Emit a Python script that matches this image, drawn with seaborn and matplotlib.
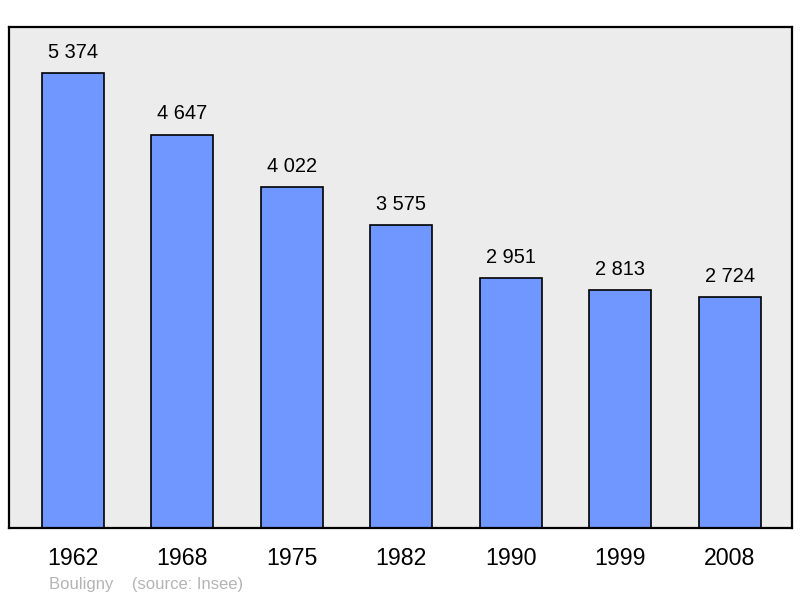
import matplotlib
matplotlib.use("Agg")
import matplotlib.pyplot as plt
import seaborn as sns
import pandas as pd

years = ["1962", "1968", "1975", "1982", "1990", "1999", "2008"]
population = [5374, 4647, 4022, 3575, 2951, 2813, 2724]
value_labels = ["5 374", "4 647", "4 022", "3 575", "2 951", "2 813", "2 724"]

sns.set_style("white")
plt.rcParams["font.family"] = ["Liberation Sans", "DejaVu Sans"]

df = pd.DataFrame({"year": years, "pop": population})

fig = plt.figure(figsize=(8, 5.98), dpi=100)
ax = fig.add_axes([9 / 800, 1 - 528 / 598, (792 - 9) / 800, (528 - 27) / 598])
ax.set_facecolor("#ececec")

sns.barplot(data=df, x="year", y="pop", color="#7097ff", width=0.566,
            edgecolor="black", linewidth=1.2, saturation=1, ax=ax)

for i, (v, lab) in enumerate(zip(population, value_labels)):
    ax.annotate(lab, (i, v), xytext=(0, 8), textcoords="offset points",
                ha="center", va="bottom", fontsize=14.4, color="black")

ax.set_xlim(-0.585, 6.57)
ax.set_ylim(0, 5917)
ax.set_yticks([])
ax.set_xlabel("")
ax.set_ylabel("")
ax.tick_params(axis="x", length=0, labelsize=16.7, labelcolor="black", pad=14)
for s in ax.spines.values():
    s.set_color("black")
    s.set_linewidth(1.6)

fig.text(49 / 800, 1 - 584 / 598, "Bouligny    (source: Insee)", color="#b4b4b4",
         fontsize=12, va="center", ha="left")

fig.savefig("out.png", dpi=100)
